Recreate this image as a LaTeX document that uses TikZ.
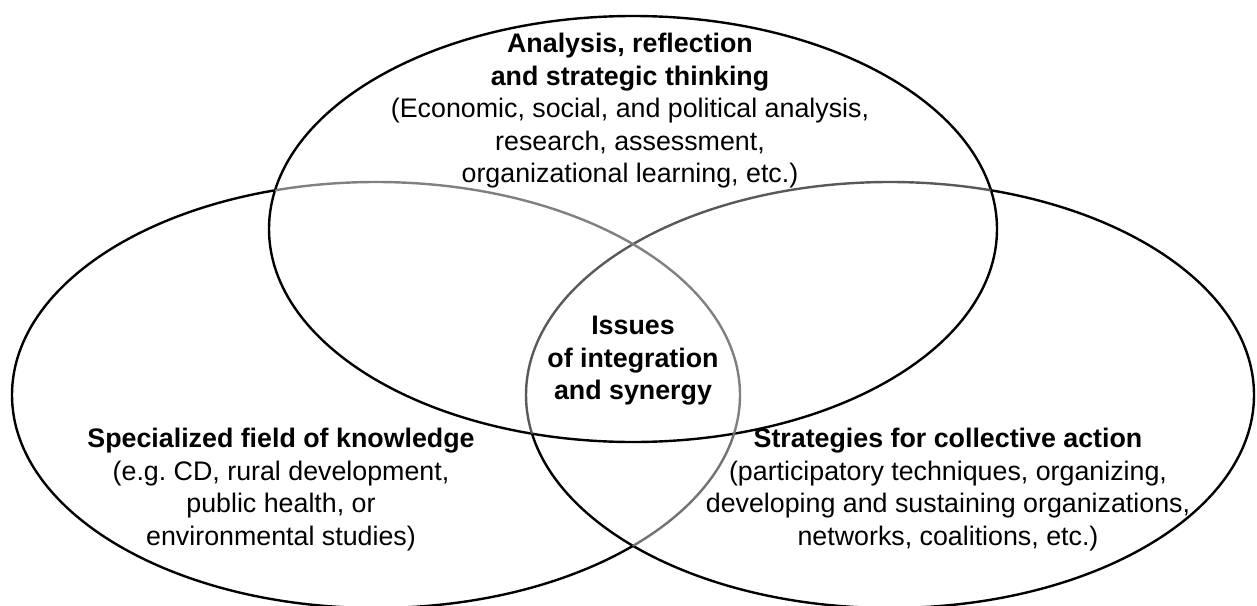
\documentclass[tikz,border=0pt]{standalone}
\usepackage{fontspec}
\setmainfont{Liberation Sans}
\frenchspacing
\begin{document}
\begin{tikzpicture}[x=1pt,y=-1pt,
  ring/.style={line width=2.4pt},
  label/.style={align=center, inner sep=0pt, font=\fontsize{26.8}{32.5}\selectfont}]
\useasboundingbox (0,0) rectangle (1257,605);
\clip (0,0) rectangle (1257,605);
\def\rx{364}\def\ry{213}
% circle centres
\coordinate (L) at (376,395);
\coordinate (R) at (890,395);
\coordinate (T) at (633,229);
% top ellipse: black all round
\draw[ring] (T) ellipse [x radius=\rx, y radius=\ry];
% right ellipse: black outside the top one, grey inside it
\begin{scope}[even odd rule]
  \clip (-50,-50) rectangle (1300,700) (T) ellipse [x radius=\rx, y radius=\ry];
  \draw[ring] (R) ellipse [x radius=\rx, y radius=\ry];
\end{scope}
\begin{scope}
  \clip (T) ellipse [x radius=\rx, y radius=\ry];
  \draw[ring, black!65] (R) ellipse [x radius=\rx, y radius=\ry];
  \draw[ring, black!50] (L) ellipse [x radius=\rx, y radius=\ry];
\end{scope}
% left ellipse: black outside both others, grey inside the right one
\begin{scope}[even odd rule]
  \clip (-50,-50) rectangle (1300,700) (T) ellipse [x radius=\rx, y radius=\ry];
  \begin{scope}
    \clip (-50,-50) rectangle (1300,700) (R) ellipse [x radius=\rx, y radius=\ry];
    \draw[ring] (L) ellipse [x radius=\rx, y radius=\ry];
  \end{scope}
  \begin{scope}[nonzero rule]
    \clip (R) ellipse [x radius=\rx, y radius=\ry];
    \draw[ring, black!55] (L) ellipse [x radius=\rx, y radius=\ry];
  \end{scope}
\end{scope}
% texts
\node[label, anchor=north] (top) at (630,33) {{\bfseries Analysis, reflection}\\
  {\bfseries and strategic thinking}\\
  (Economic, social, and political analysis,\\
  research, assessment,\\
  organizational learning, etc.)};
\node[label, anchor=north] (mid) at (633,316) {\bfseries Issues\\
  \bfseries of integration\\
  \bfseries and synergy};
\node[label, anchor=north] (left) at (281,428) {{\bfseries Specialized field of knowledge}\\
  (e.g. CD, rural development,\\
  public health, or\\
  environmental studies)};
\node[label, anchor=north] (right) at (948,428) {{\bfseries Strategies for collective action}\\
  (participatory techniques, organizing,\\
  developing and sustaining organizations,\\
  networks, coalitions, etc.)};
\end{tikzpicture}
\end{document}
